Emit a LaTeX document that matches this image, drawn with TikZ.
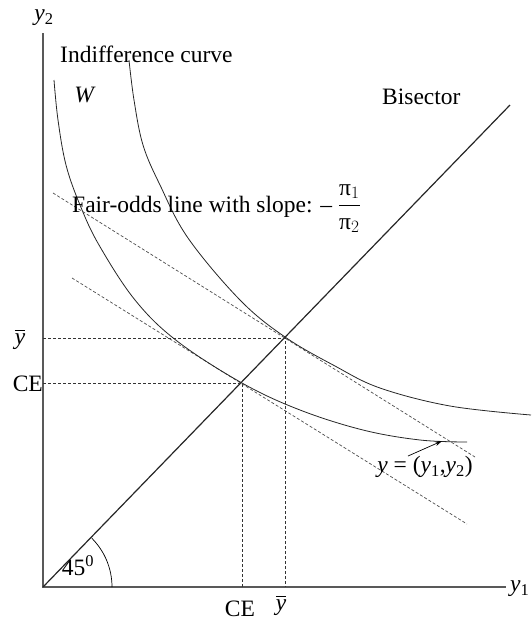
\documentclass[tikz,border=0pt]{standalone}
\usepackage{amsmath}
\usepackage{fontspec}
\setmainfont{Liberation Serif}
\usepackage{xcolor}
\usepackage{tikz}
\usetikzlibrary{arrows.meta,calc}

\newcommand{\yv}{\textit{y}}
\newcommand{\ybar}{$\overline{\mbox{\textit{y}}}$}

\begin{document}
\begin{tikzpicture}[
  x=1pt, y=-1pt,
  font=\fontsize{23.5}{27}\selectfont,
  >={Stealth[length=7pt,width=4.5pt]},
  axis/.style={line width=1.2pt, black!65},
  bisect/.style={line width=1.2pt, black!85},
  icurve/.style={line width=0.8pt, black!85},
  guide/.style={line width=0.7pt, black!80, dash pattern=on 3pt off 2pt},
  odds/.style={line width=0.7pt, black!70, dash pattern=on 3pt off 2pt},
  lab/.style={inner sep=0pt},
]
\useasboundingbox (0,0) rectangle (531,622);

%% ── Axes and bisector ───────────────────────────────────────────────────────
\coordinate (O)    at (43,587);
\coordinate (ytop) at (43,33);
\coordinate (xend) at (506,587);
\coordinate (bend) at (510,105);
\draw[axis] (ytop) -- (O) -- (xend);
\draw[bisect] (O) -- (bend);
\draw[line width=0.7pt] ($(O)+(69,0)$) arc[start angle=0, end angle=-45, radius=69];

\node[lab] (ylab2) at (44,18) {\yv\textsubscript{2}};
\node[lab, anchor=west] (ylab1) at (510,589) {\yv\textsubscript{1}};
\node[lab] (ang) at (78,566) {45\textsuperscript{0}};

%% ── Certainty points ───────────────────────────────────────────────────────
\coordinate (ypt)  at (285,338);
\coordinate (cept) at (242,383);
\draw[guide] (ypt -| O) -- (ypt) -- (ypt |- O);
\draw[guide] (cept -| O) -- (cept) -- (cept |- O);

\node[lab] (ybl) at (20,339) {\ybar};
\node[lab, anchor=east] (cel) at (43,384) {CE};
\node[lab] (ceb) at (240,609) {CE};
\node[lab] (ybb) at (281,605) {\ybar};

%% ── Fair-odds lines ─────────────────────────────────────────────────────────
\coordinate (f1a) at (53,193);
\coordinate (f1b) at (475,457);
\coordinate (f2a) at (72,278);
\coordinate (f2b) at (467,524);
\draw[odds] (f1a) -- (f1b);
\draw[odds] (f2a) -- (f2b);

%% ── Indifference curves ─────────────────────────────────────────────────────
\draw[icurve] plot[smooth, tension=0.6] coordinates
  {(54,80) (58,120) (66,165) (80,205) (99,245) (135,300) (177,341) (242,383)
   (300,410) (363,430) (420,440) (467,442)};
\draw[icurve] plot[smooth, tension=0.6] coordinates
  {(129,60) (134,100) (143,145) (160,185) (188,238) (240,300) (285,337)
   (335,366) (380,388) (450,406) (531,415)};

%% ── Labels ──────────────────────────────────────────────────────────────────
\node[lab, anchor=base west] (indiff) at (60,62) {Indifference curve};
\node[lab] (wlab) at (85,95) {\textit{W}};
\node[lab, anchor=base west] (bis) at (382,104) {Bisector};
\node[lab, anchor=base west] (fair) at (72,212)
  {Fair-odds line with slope: -- $\dfrac{\mbox{π}_1}{\mbox{π}_2}$};

\node[lab] (ylab) at (425,467)
  {\yv\ = (\yv\textsubscript{1},\yv\textsubscript{2})};
\coordinate (ytail) at (408,456);
\coordinate (ytip)  at (442,441);
\draw[->, line width=0.7pt] (ytail) -- (ytip);

\end{tikzpicture}
\end{document}
